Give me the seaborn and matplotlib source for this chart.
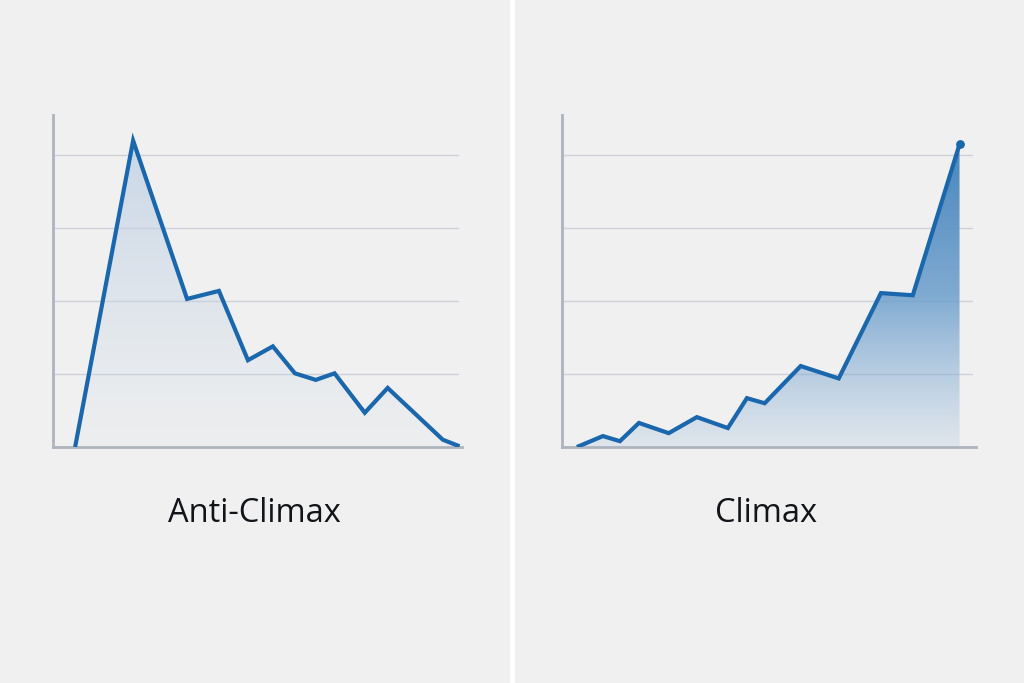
import numpy as np
import matplotlib
matplotlib.use("Agg")
import matplotlib.pyplot as plt
from matplotlib.colors import LinearSegmentedColormap
from matplotlib.lines import Line2D
from matplotlib.patches import PathPatch
import seaborn as sns

# ── Data (x on a 0-100 scale across each axis, y in grid units) ──
anti_x = [5.4, 19.6, 32.8, 40.6, 47.7, 53.8, 59.2, 64.3, 68.9, 76.3, 81.9, 95.4, 99.5]
anti_y = [0.0, 4.20, 2.03, 2.14, 1.19, 1.38, 1.01, 0.92, 1.01, 0.47, 0.81, 0.10, 0.01]

climax_x = [3.6, 9.9, 14.0, 18.6, 25.8, 32.6, 40.1, 44.7, 49.0, 57.7, 66.9, 77.1, 84.8, 96.1]
climax_y = [0.0, 0.15, 0.08, 0.33, 0.19, 0.41, 0.26, 0.67, 0.60, 1.11, 0.94, 2.11, 2.08, 4.15]

titles = ["Anti-Climax", "Climax"]
grid_levels = [1, 2, 3, 4]

LINE = "#1a67ae"
SPINE = "#aeb4bd"
GRID = "#cdd1d8"
BG = "#f0f0f0"
YMAX = 4.55

sns.set_theme(style="white")
plt.rcParams["font.family"] = ["Open Sans", "DejaVu Sans"]

fig = plt.figure(figsize=(10.24, 6.83), dpi=100, facecolor=BG)


def draw_panel(rect, xs, ys, title, cmap, end_dot=False):
    ax = fig.add_axes(rect)
    ax.set_facecolor("none")
    ax.set_xlim(0, 100)
    ax.set_ylim(0, YMAX)

    for g in grid_levels:
        ax.axhline(g, xmin=0, xmax=0.99, color=GRID, lw=1.0, zorder=1)

    # gradient fill under the curve
    fill = ax.fill_between(xs, ys, 0, facecolor="none", edgecolor="none")
    grad = np.linspace(0, 1, 256).reshape(-1, 1)
    im = ax.imshow(grad, extent=[0, 100, 0, max(ys)], origin="lower",
                   aspect="auto", cmap=cmap, zorder=2, interpolation="bicubic")
    clip = PathPatch(fill.get_paths()[0], transform=ax.transData,
                     facecolor="none", edgecolor="none")
    ax.add_patch(clip)
    im.set_clip_path(clip)

    sns.lineplot(x=xs, y=ys, ax=ax, color=LINE, lw=3.0, zorder=4,
                 solid_joinstyle="miter", solid_capstyle="butt")
    if end_dot:
        ax.scatter([xs[-1]], [ys[-1]], s=28, color=LINE, zorder=5)

    for side in ["top", "right"]:
        ax.spines[side].set_visible(False)
    for side in ["left", "bottom"]:
        ax.spines[side].set_color(SPINE)
        ax.spines[side].set_linewidth(2.0)
    ax.set_xticks([])
    ax.set_yticks([])
    ax.set_xlabel("")
    ax.set_ylabel("")

    cx = rect[0] + rect[2] / 2
    fig.text(cx - 0.003, 0.248, title, ha="center", va="center",
             fontsize=23.5, color="#111418", fontweight="medium")
    return ax


light = LinearSegmentedColormap.from_list(
    "light", [(0.82, 0.86, 0.91, 0.10), (0.72, 0.80, 0.89, 0.70)])
deep = LinearSegmentedColormap.from_list(
    "deep", [(0.60, 0.73, 0.86, 0.20), (0.42, 0.62, 0.80, 0.85),
             (0.24, 0.50, 0.73, 0.95)])

draw_panel([0.0518, 0.3455, 0.399, 0.486], anti_x, anti_y, titles[0], light)
draw_panel([0.5488, 0.3455, 0.404, 0.486], climax_x, climax_y, titles[1], deep,
           end_dot=True)

fig.add_artist(Line2D([0.5, 0.5], [0, 1], color="white", lw=3.5,
                      transform=fig.transFigure))

fig.savefig("out.png", dpi=100, facecolor=BG)
